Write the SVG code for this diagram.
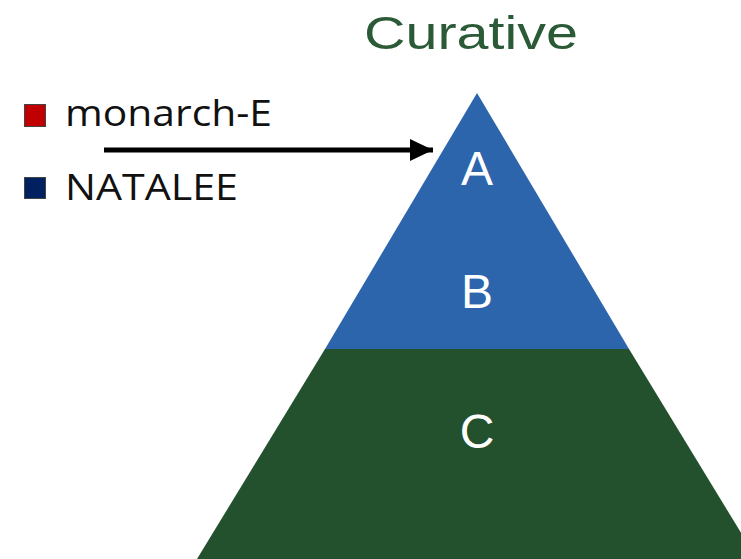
<svg xmlns="http://www.w3.org/2000/svg" width="741" height="559" viewBox="0 0 741 559">
<defs>
<style>
.lbl{font-family:"Liberation Sans",Arial,sans-serif;fill:#ffffff;font-size:48px;text-anchor:middle}
.leg{font-family:"Open Sans","Liberation Sans",sans-serif;fill:#111;font-size:36px}
</style>
<marker id="ah" markerUnits="userSpaceOnUse" markerWidth="24" markerHeight="24" refX="23" refY="11" orient="auto" viewBox="0 0 24 22">
<path d="M0,0 L23,11 L0,22 Z" fill="#000"/>
</marker>
</defs>
<rect width="741" height="559" fill="#fff"/>
<text x="364" y="49" font-family="Liberation Sans,Arial,sans-serif" font-size="46" fill="#2B5A36" textLength="214" lengthAdjust="spacingAndGlyphs">Curative</text>
<g id="tierAB">
<polygon points="477,93 325,349 629,349" fill="#2D65AD"/>
<text class="lbl" x="477" y="185">A</text>
<text class="lbl" x="477" y="308">B</text>
</g>
<g id="tierC">
<polygon points="325,349 629,349 757,559 197,559" fill="#24512D"/>
<text class="lbl" x="477" y="448">C</text>
</g>
<g id="legend">
<rect x="24.5" y="104.5" width="21" height="22" fill="#C00000" stroke="#444" stroke-width="1"/>
<text class="leg" x="65" y="126" textLength="207" lengthAdjust="spacingAndGlyphs">monarch-E</text>
<rect x="24.5" y="177.5" width="21" height="21" fill="#002060" stroke="#444" stroke-width="1"/>
<text class="leg" x="65" y="200" textLength="173" lengthAdjust="spacingAndGlyphs">NATALEE</text>
</g>
<g id="connectors">
<line x1="104" y1="150" x2="433" y2="150" stroke="#000" stroke-width="5" marker-end="url(#ah)"/>
</g>
</svg>
